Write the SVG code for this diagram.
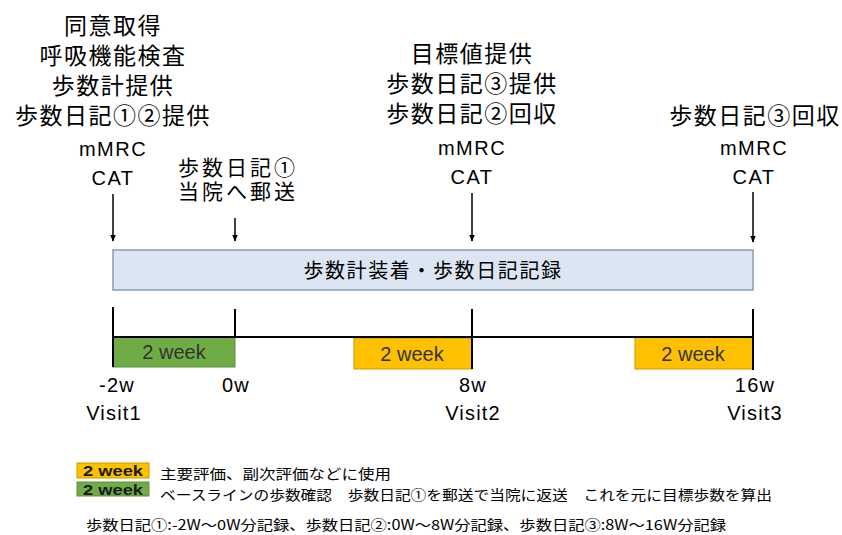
<svg xmlns="http://www.w3.org/2000/svg" width="842" height="535" viewBox="0 0 842 535">
<defs>
<marker id="ah" viewBox="0 0 10 10" refX="9" refY="5" markerWidth="7" markerHeight="7" orient="auto" markerUnits="userSpaceOnUse"><path d="M0,1 L10,5 L0,9 z" fill="#000"/></marker>
</defs>
<style>
.t{font-family:"Liberation Sans","Noto Sans CJK JP",sans-serif;fill:#000;text-anchor:middle}
.jp{font-size:23px;letter-spacing:1.5px}
.ml{font-size:21px;letter-spacing:3px}
.en{font-size:20px;letter-spacing:1.5px}
.ax{font-size:20px;letter-spacing:1.2px}
.wk{font-family:"Liberation Sans",sans-serif;font-size:20px;text-anchor:middle;fill:#333}
.lk{font-family:"Liberation Sans",sans-serif;font-size:15px;font-weight:bold;text-anchor:middle;fill:#1a1a1a}
.lg{font-family:"Noto Sans CJK JP",sans-serif;font-size:14px;fill:#000}
.ln{stroke:#000;stroke-width:2;fill:none}
.ar{stroke:#000;stroke-width:1.5;fill:none}
</style>
<rect width="842" height="535" fill="#fff"/>
<g id="visit1-text">
<text class="t jp" x="113" y="34">同意取得</text>
<text class="t jp" x="113" y="64">呼吸機能検査</text>
<text class="t jp" x="113" y="94">歩数計提供</text>
<text class="t jp" x="113" y="124">歩数日記①②提供</text>
<text class="t en" x="113" y="156">mMRC</text>
<text class="t en" x="113" y="185">CAT</text>
</g>
<g id="mail-text">
<text class="t ml" x="238" y="175">歩数日記①</text>
<text class="t ml" x="238" y="199">当院へ郵送</text>
</g>
<g id="visit2-text">
<text class="t jp" x="472" y="62">目標値提供</text>
<text class="t jp" x="472" y="92">歩数日記③提供</text>
<text class="t jp" x="472" y="122">歩数日記②回収</text>
<text class="t en" x="472" y="155">mMRC</text>
<text class="t en" x="472" y="184">CAT</text>
</g>
<g id="visit3-text">
<text class="t jp" x="755" y="124">歩数日記③回収</text>
<text class="t en" x="754" y="155">mMRC</text>
<text class="t en" x="754" y="184">CAT</text>
</g>
<g id="bar">
<rect x="113" y="250" width="640" height="40" fill="#dce6f2" stroke="#8a9bb5" stroke-width="1.5"/>
<text class="t" style="font-size:20px;letter-spacing:1.6px" x="433" y="278">歩数計装着・歩数日記記録</text>
</g>
<g id="period-green">
<rect x="113" y="337" width="122" height="30" fill="#6fac46" stroke="#5a8f3a" stroke-width="1"/>
<text class="wk" x="174" y="359">2 week</text>
</g>
<g id="period-orange1">
<rect x="354" y="338" width="118" height="31" fill="#ffc000" stroke="#c99a00" stroke-width="1"/>
<text class="wk" x="412" y="361">2 week</text>
</g>
<g id="period-orange2">
<rect x="635" y="337" width="118" height="32" fill="#ffc000" stroke="#c99a00" stroke-width="1"/>
<text class="wk" x="693" y="361">2 week</text>
</g>
<g id="connectors">
<line class="ar" x1="113" y1="194" x2="113" y2="241" marker-end="url(#ah)"/>
<line class="ar" x1="235" y1="218" x2="235" y2="241" marker-end="url(#ah)"/>
<line class="ar" x1="472" y1="193" x2="472" y2="241" marker-end="url(#ah)"/>
<line class="ar" x1="753" y1="192" x2="753" y2="242" marker-end="url(#ah)"/>
<line class="ln" x1="113" y1="337" x2="753" y2="337"/>
<line class="ln" x1="113" y1="307" x2="113" y2="367"/>
<line class="ln" x1="235" y1="309" x2="235" y2="337"/>
<line class="ln" x1="472" y1="309" x2="472" y2="369"/>
<line class="ln" x1="753" y1="309" x2="753" y2="370"/>
</g>
<g id="axis-labels">
<text class="t ax" x="117" y="392">-2w</text>
<text class="t ax" x="236" y="392">0w</text>
<text class="t ax" x="473" y="392">8w</text>
<text class="t ax" x="755" y="392">16w</text>
<text class="t ax" x="114" y="420">Visit1</text>
<text class="t ax" x="473" y="420">Visit2</text>
<text class="t ax" x="755" y="420">Visit3</text>
</g>
<g id="legend">
<rect x="77" y="463" width="72" height="15" fill="#ffc000" stroke="#c99a00" stroke-width="1"/>
<text class="lk" x="113" y="476" textLength="60" lengthAdjust="spacingAndGlyphs">2 week</text>
<text class="lg" x="160" y="479" textLength="231" lengthAdjust="spacingAndGlyphs">主要評価、副次評価などに使用</text>
<rect x="77" y="482" width="72" height="14" fill="#6fac46" stroke="#5a8f3a" stroke-width="1"/>
<text class="lk" x="113" y="494.5" textLength="60" lengthAdjust="spacingAndGlyphs">2 week</text>
<text class="lg" x="160" y="500" textLength="612" lengthAdjust="spacingAndGlyphs">ベースラインの歩数確認　歩数日記①を郵送で当院に返送　これを元に目標歩数を算出</text>
<text class="lg" x="86" y="530" textLength="640" lengthAdjust="spacingAndGlyphs">歩数日記①:-2W～0W分記録、歩数日記②:0W～8W分記録、歩数日記③:8W～16W分記録</text>
</g>
</svg>
